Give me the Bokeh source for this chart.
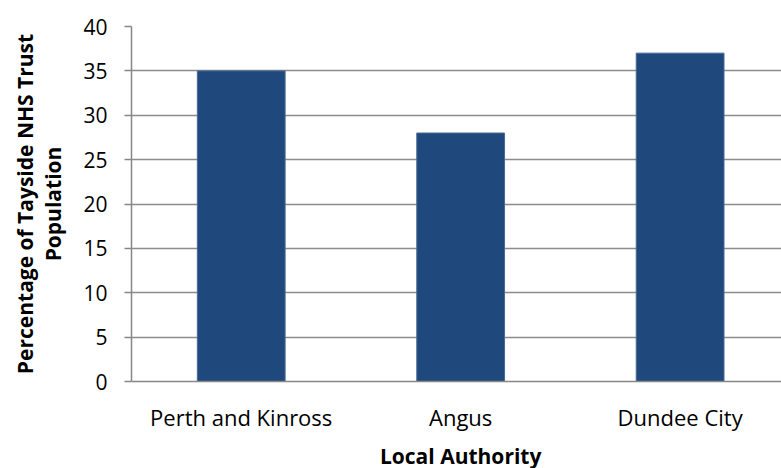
from bokeh.plotting import figure
from bokeh.models import FixedTicker, Range1d, ColumnDataSource, Label
from bokeh.embed import file_html
from bokeh.resources import INLINE

categories = ["Perth and Kinross", "Angus", "Dundee City"]
values = [35, 28, 37]
y_ticks = [0, 5, 10, 15, 20, 25, 30, 35, 40]
x_title = "Local Authority"
y_title = "Percentage of Tayside NHS Trust\nPopulation"

Y_MAX = 40
FRAME_H = 355  # pixels of plot area height
xs = [i + 0.5 for i in range(len(categories))]
src = ColumnDataSource(dict(x=xs, top=values))

p = figure(width=781, height=468, output_backend="svg", toolbar_location=None,
           x_range=Range1d(0, 2.962), y_range=Range1d(0, Y_MAX),
           min_border_left=131, min_border_right=0, min_border_top=26, min_border_bottom=87)
p.outline_line_color = None
p.vbar(x="x", top="top", width=0.4, source=src, fill_color="#1F497D", line_color="#4A6A94", line_width=1)

font = "Open Sans"
p.xaxis.ticker = FixedTicker(ticks=xs, minor_ticks=[0, 1, 2, 3])
p.xaxis.major_label_overrides = {x: c for x, c in zip(xs, categories)}
p.xaxis.major_tick_out = 0
p.xaxis.major_tick_in = 0
p.xaxis.minor_tick_out = 7
p.xaxis.minor_tick_in = 0
p.xaxis.major_label_standoff = 13

p.yaxis.ticker = FixedTicker(ticks=y_ticks)
p.yaxis.minor_tick_line_color = None
p.yaxis.major_tick_out = 7
p.yaxis.major_tick_in = 0
p.yaxis.axis_label = y_title
p.yaxis.major_label_standoff = 17

for ax in (p.xaxis, p.yaxis):
    ax.axis_line_color = "#878787"
    ax.axis_line_width = 1.5
    ax.major_tick_line_color = "#878787"
    ax.major_tick_line_width = 1.5
    ax.minor_tick_line_color = "#878787" if ax is p.xaxis else None
    ax.minor_tick_line_width = 1.5
    ax.major_label_text_font = font
    ax.major_label_text_color = "#000000"
    ax.axis_label_text_font = font
    ax.axis_label_text_font_style = "bold"
    ax.axis_label_text_color = "#000000"
    ax.axis_label_text_font_size = "21px"

p.xaxis.major_label_text_font_size = "22px"
p.yaxis.major_label_text_font_size = "21px"
p.yaxis.axis_label_standoff = 13
p.yaxis.axis_label_text_line_height = 1.0

# x-axis title, centred under the category span, below the tick labels
xlab = Label(x=len(categories) / 2, y=-74 * Y_MAX / FRAME_H,
             x_units="data", y_units="data", text=x_title,
             text_font=font, text_font_style="bold", text_font_size="21px",
             text_color="#000000", text_align="center", text_baseline="middle")
p.add_layout(xlab, "below")

p.xgrid.grid_line_color = None
p.ygrid.ticker = FixedTicker(ticks=y_ticks)
p.ygrid.grid_line_color = "#8C8C8C"
p.ygrid.grid_line_width = 1.5

open("out.html", "w").write(file_html(p, INLINE))
